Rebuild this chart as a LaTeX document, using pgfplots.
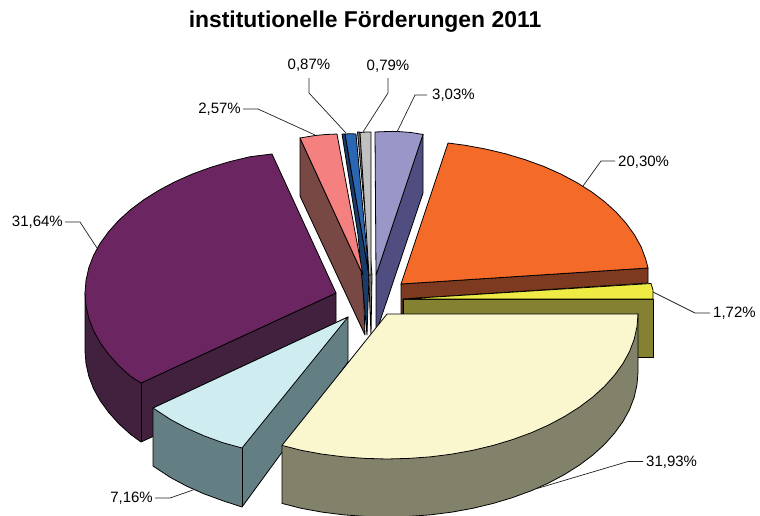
\documentclass[border=0pt]{standalone}
\usepackage{fontspec}
\setmainfont{Liberation Sans}
\usepackage{pgfplots}
\pgfplotsset{compat=1.18}
\definecolor{cPur}{HTML}{6B2560}\definecolor{wPur}{HTML}{42213F}
\definecolor{cRed}{HTML}{F48080}\definecolor{wRed}{HTML}{784845}
\definecolor{cBlu}{HTML}{2B66B2}\definecolor{wBlu}{HTML}{1A3C6A}
\definecolor{cGry}{HTML}{C0C0C0}\definecolor{wGry}{HTML}{707070}
\definecolor{cLav}{HTML}{9A96C8}\definecolor{wLav}{HTML}{504E80}
\definecolor{cOra}{HTML}{F46A28}\definecolor{wOra}{HTML}{7E3A20}
\definecolor{cYel}{HTML}{EFEB44}\definecolor{wYel}{HTML}{848232}
\definecolor{cCre}{HTML}{FAF7CF}\definecolor{wCre}{HTML}{82816A}
\definecolor{cLbl}{HTML}{CFECF0}\definecolor{wLbl}{HTML}{647F84}
\definecolor{ldr}{HTML}{202020}
\pgfplotsset{pc/.style={fill=#1,draw=black,line width=0.8pt,no markers,line join=round},
 lead/.style={draw=ldr,line width=0.7pt,no markers,fill=none}}
\begin{document}
\begin{tikzpicture}
\path[use as bounding box] (0,0) rectangle (760pt,515pt);
\begin{axis}[anchor=south west,at={(0,0)},scale only axis,width=760pt,height=515pt,xmin=0,xmax=760,ymin=0,ymax=515,
 y dir=reverse,axis lines=none,ticks=none,clip=true]
% walls of the upper narrow slices
\addplot[pc=wRed] coordinates {(300,138)(300,196)(365,335)(363,275)} --cycle;
\addplot[pc=wBlu] coordinates {(342,134)(358,235)(367,335)(369,275)(345,134)} --cycle;
\addplot[pc=wGry] coordinates {(357.5,132)(367,235)(371,335)(372,275)(360,132)} --cycle;
\addplot[pc=wLav] coordinates {(423,134)(423,193)(376,333)(376,275)} --cycle;
% tops
\addplot[pc=cRed] coordinates {(300,138)(315,135.5)(326,134.5)(337,134)(363,275)} --cycle;
\addplot[pc=cBlu] coordinates {(345,134)(350,133.7)(356,134)(369,275)} --cycle;
\addplot[pc=cGry] coordinates {(360,132.5)(366,132)(371,132)(371,275)(369,275)} --cycle;
\addplot[pc=cLav] coordinates {(375,132)(388,131.5)(398,131.5)(411,132.5)(423,134.5)(376,275)} --cycle;
% orange
\addplot[pc=wOra] coordinates {(401,284)(648,268)(648,283)(403,299)(403,314)(401,314)} --cycle;
\addplot[pc=cOra] coordinates {(448,143)(465.4,145.3)(485.9,149.1)(506.1,153.9)(525.2,159.7)(543.7,166.4)(560.8,174)(576.7,182.5)(591.4,191.7)(604.5,201.6)(616.2,212.2)(626.1,223.3)(634.5,234.9)(641.1,246.8)(645.7,259.1)(648,268)(401,284)} --cycle;
% purple
\addplot[pc=wPur] coordinates {(85,293)(85,351)(86,363.6)(88.8,376.2)(93.5,388.6)(100.1,400.6)(108.6,412.3)(118.6,423.5)(130.4,434.2)(141,442)(336,352)(336,293)(141,383)} --cycle;
\addplot[pc=cPur] coordinates {(272,154)(250.2,156.7)(229.8,161.6)(210.5,167.4)(191.9,174.2)(174.6,181.9)(158.5,190.5)(143.7,199.8)(130.4,209.8)(118.6,220.5)(108.6,231.7)(100.1,243.4)(93.5,255.4)(88.8,267.8)(86,280.4)(85,293)(86,305.6)(88.8,318.2)(93.5,330.6)(100.1,342.6)(108.6,354.3)(118.6,365.5)(130.4,376.2)(141,383)(336,293)} --cycle;
\addplot[draw=black,line width=0.6pt,no markers] coordinates {(141,383)(141,442)};
% light blue
\addplot[pc=wLbl] coordinates {(153,408)(153,466)(170.5,477.5)(186.6,486.1)(203.9,493.8)(222.5,500.6)(242,507)(348,362)(348,317)} --cycle;
\addplot[pc=cLbl] coordinates {(153,408)(170.5,419.5)(186.6,428.1)(203.9,435.8)(222.5,442.6)(242,448)(348,317)} --cycle;
\addplot[draw=black,line width=0.6pt,no markers] coordinates {(242,448)(242,507)};
% yellow
\addplot[pc=wYel] coordinates {(403,299)(653,299)(653,357)(403,357)} --cycle;
\addplot[pc=cYel] coordinates {(403,299)(651,283.5)(653,290)(653,299)} --cycle;
% cream
\addplot[pc=wCre] coordinates {(282,445.4)(282,503.4)(301.2,508.3)(322,512.1)(343.3,514.8)(365.2,516.4)(387,517)(408.8,516.4)(430.7,514.8)(452,512.1)(472.8,508.3)(493.2,503.4)(512.5,497.6)(531.1,490.8)(548.4,483.1)(564.5,474.5)(579.3,465.2)(592.6,455.2)(604.4,444.5)(614.4,433.3)(622.9,421.6)(629.5,409.6)(634.2,397.2)(637,384.6)(638,372)(638,314)} --cycle;
\addplot[pc=cCre] coordinates {(387,314)(638,314)(637,326.6)(634.2,339.2)(629.5,351.6)(622.9,363.6)(614.4,375.3)(604.4,386.5)(592.6,397.2)(579.3,407.2)(564.5,416.5)(548.4,425.1)(531.1,432.8)(512.5,439.6)(493.2,445.4)(472.8,450.3)(452,454.1)(430.7,456.8)(408.8,458.4)(387,459)(365.2,458.4)(343.3,456.8)(322,454.1)(301.2,450.3)(282,445.4)} --cycle;
% leaders
\addplot[lead] coordinates {(427,95)(415,95)(397,132)};
\addplot[lead] coordinates {(309,78)(309,93)(346,133)};
\addplot[lead] coordinates {(388,78)(388,93)(363,132)};
\addplot[lead] coordinates {(243,109)(258,109)(315,135)};
\addplot[lead] coordinates {(615,161)(601,161)(583,186)};
\addplot[lead] coordinates {(710,313)(695,313)(653,292)};
\addplot[lead] coordinates {(643,461.5)(628,461.5)(537,488.5)};
\addplot[lead] coordinates {(155,498)(170,498)(193,490)};
\addplot[lead] coordinates {(65,222)(80,222)(97,248)};
% labels
\node[font=\fontsize{22.9}{26}\selectfont\bfseries,anchor=center] at (axis cs:365,22) {institutionelle Förderungen 2011};
\newcommand{\lb}{\fontsize{15}{18}\selectfont}
\node[font=\lb,anchor=west,inner sep=0pt] at (axis cs:432,95) {3,03\%};
\node[font=\lb,anchor=center,inner sep=0pt] at (axis cs:309,65) {0,87\%};
\node[font=\lb,anchor=center,inner sep=0pt] at (axis cs:388,66) {0,79\%};
\node[font=\lb,anchor=east,inner sep=0pt] at (axis cs:241,109) {2,57\%};
\node[font=\lb,anchor=west,inner sep=0pt] at (axis cs:618,162) {20,30\%};
\node[font=\lb,anchor=west,inner sep=0pt] at (axis cs:713,313) {1,72\%};
\node[font=\lb,anchor=west,inner sep=0pt] at (axis cs:646,462) {31,93\%};
\node[font=\lb,anchor=east,inner sep=0pt] at (axis cs:153,498) {7,16\%};
\node[font=\lb,anchor=east,inner sep=0pt] at (axis cs:63,222) {31,64\%};
\end{axis}
\end{tikzpicture}
\end{document}
